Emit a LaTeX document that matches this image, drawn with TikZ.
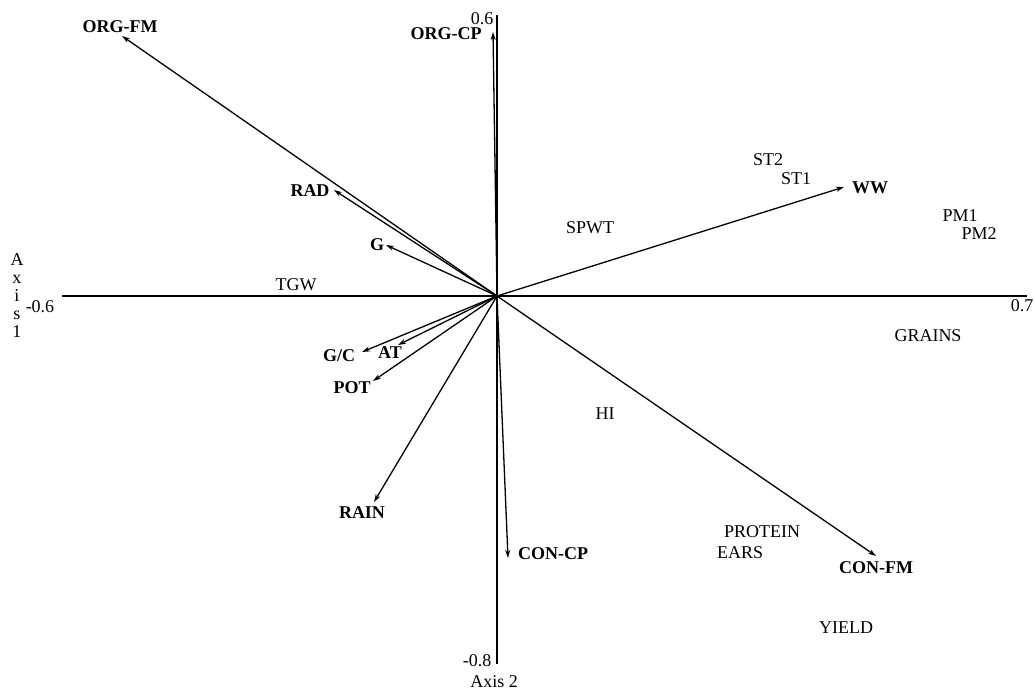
\documentclass[tikz,border=0pt]{standalone}
\usepackage{fontspec}
\setmainfont{Liberation Serif}
\usetikzlibrary{arrows.meta}
\begin{document}
\begin{tikzpicture}[x=1pt,y=-1pt,
  vec/.style={-{Stealth[length=8pt,width=5pt]}, line width=1.3pt},
  axisline/.style={line width=1.3pt},
  bl/.style={font=\fontsize{18}{20}\selectfont\bfseries, inner sep=0pt},
  tl/.style={font=\fontsize{18}{20}\selectfont, inner sep=0pt}]
\useasboundingbox (0,0) rectangle (1035,693);
% axes
\coordinate (O) at (497,296);
\coordinate (xl) at (62,296);
\coordinate (xr) at (1027,296);
\coordinate (yt) at (497,15);
\coordinate (yb) at (497,664);
\draw[axisline] (xl) -- (xr);
\draw[axisline] (yt) -- (yb);
\node[tl] (xmin) at (40,307) {-0.6};
\node[tl] (xmax) at (1022,306) {0.7};
\node[tl] (ymax) at (482,19) {0.6};
\node[tl] (ymin) at (477,661) {-0.8};
\node[tl] (ax2) at (494,682) {Axis 2};
\node[tl, align=center, font=\fontsize{18}{18}\selectfont] (ax1) at (17,296) {A\\x\\i\\s\\1};
% vector tips
\coordinate (tORGFM) at (122,36);
\coordinate (tORGCP) at (493,32);
\coordinate (tRAD) at (334,190);
\coordinate (tG) at (386,245);
\coordinate (tGC) at (362,352);
\coordinate (tAT) at (398,345);
\coordinate (tPOT) at (373,381);
\coordinate (tRAIN) at (374,502);
\coordinate (tCONCP) at (508,558);
\coordinate (tCONFM) at (876,556);
\coordinate (tWW) at (844,187);
\foreach \t in {ORGFM,ORGCP,RAD,G,GC,AT,POT,RAIN,CONCP,CONFM,WW}
  \draw[vec] (O) -- (t\t);
% vector labels
\node[bl] (lORGFM) at (120,27) {ORG-FM};
\node[bl] (lORGCP) at (446,34) {ORG-CP};
\node[bl] (lRAD) at (310,191) {RAD};
\node[bl] (lG) at (377,245) {G};
\node[bl] (lGC) at (339,356) {G/C};
\node[bl] (lAT) at (390,353) {AT};
\node[bl] (lPOT) at (352,388) {POT};
\node[bl] (lRAIN) at (362,513) {RAIN};
\node[bl] (lCONCP) at (553,554) {CON-CP};
\node[bl] (lCONFM) at (876,568) {CON-FM};
\node[bl] (lWW) at (870,188) {WW};
% other labels
\node[tl] (TGW) at (296,285) {TGW};
\node[tl] (SPWT) at (590,228) {SPWT};
\node[tl] (ST2) at (768,160) {ST2};
\node[tl] (ST1) at (796,179) {ST1};
\node[tl] (PM1) at (960,216) {PM1};
\node[tl] (PM2) at (979,234) {PM2};
\node[tl] (GRAINS) at (928,336) {GRAINS};
\node[tl] (HI) at (605,414) {HI};
\node[tl] (PROTEIN) at (762,532) {PROTEIN};
\node[tl] (EARS) at (740,553) {EARS};
\node[tl] (YIELD) at (846,628) {YIELD};
\end{tikzpicture}
\end{document}
